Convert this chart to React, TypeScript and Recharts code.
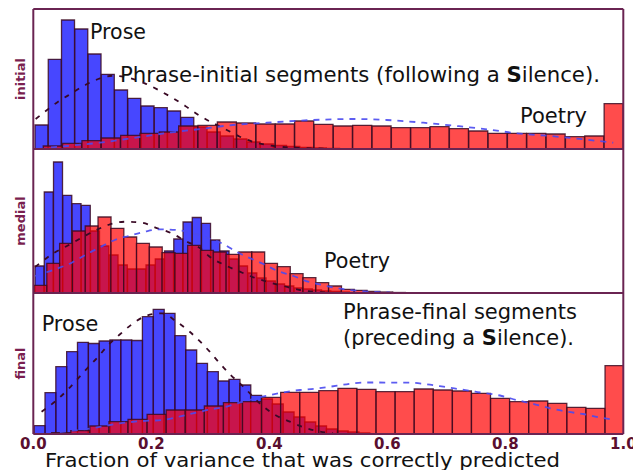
import React from "react";
import { ComposedChart, Bar, Line, XAxis, YAxis } from "recharts";

const W = 633;
const H = 470;
const PLOT_LEFT = 33.3;
const PLOT_RIGHT = 623.3;

const BLUE = "#0000ff";
const RED = "#ff0000";
const EDGE = "#3c0a22";
const FRAME = "#6a2452";
const TICK_COLOR = "#5a0f30";
const YLABEL_COLOR = "#7a1f50";
const FONT = "'DejaVu Sans', sans-serif";

// histogram heights (arbitrary density units)
const initialProse = [24, 89.7, 129, 120, 95, 74.7, 59, 50.7, 43, 41.3, 38, 31.7, 22, 17, 13, 10, 7, 5, 3.5, 2.5, 1.5, 1, 0.7];
const initialPoetry = [3, 5.6, 8.3, 11, 13.6, 15.6, 17, 23, 23.6, 27, 26, 25, 25, 28, 24.7, 23, 23.7, 23, 21.3, 21.3, 22.3, 20.3, 18, 15.7, 15.7, 15.7, 15, 12.3, 13, 45.3];
const medialProse = [27, 101, 131, 97.7, 89.3, 87.7, 62, 47, 38, 28, 24, 24, 28, 34, 42, 54, 71, 75.5, 69.7, 53, 42, 34, 27, 20, 15, 12, 9, 7, 5, 4, 3, 2, 1.5, 1];
const medialPoetry = [7.7, 29.7, 49.7, 62, 67, 76, 64.7, 56, 49.7, 46, 40.3, 39.7, 47.7, 42.7, 41, 38.7, 41, 41, 29.7, 26.3, 19.3, 15.3, 10.3, 7, 3.7, 2.7, 1.5, 1, 0.5];
const finalProse = [8.3, 41.3, 67.3, 82.3, 91.7, 90.5, 93, 94, 94, 93.5, 117.3, 124.7, 120.7, 98.3, 84, 70.7, 62.3, 53, 54.7, 49, 38.7, 35, 30, 22, 17, 12, 8, 5, 3, 2, 1];
const finalPoetry = [1.3, 3.3, 8, 12.3, 14.7, 19.7, 24, 24, 28, 31.3, 32.3, 36.7, 41.7, 41.7, 43.3, 45.7, 44.7, 42.3, 42.3, 45, 44, 43, 40.7, 35.7, 32.3, 33, 30.7, 26.7, 25.7, 68.3];

// bin layout of each histogram (left edge of first bin, bin width)
const initialProseBins = { start: 0.0029, width: 0.02246 };
const initialPoetryBins = { start: 0.0169, width: 0.03278 };
const medialProseBins = { start: 0.0029, width: 0.01568 };
const medialPoetryBins = { start: 0.0012, width: 0.0217 };
const finalProseBins = { start: 0.0015, width: 0.01834 };
const finalPoetryBins = { start: 0.0312, width: 0.03234 };

// fitted density curves (dashed)
const initialProseFit = [
  { x: 0.004, y: 30 }, { x: 0.014, y: 34.7 }, { x: 0.042, y: 47.3 }, { x: 0.065, y: 55.7 }, { x: 0.088, y: 64 },
  { x: 0.11, y: 70 }, { x: 0.136, y: 73.3 }, { x: 0.161, y: 71.3 }, { x: 0.189, y: 65.7 }, { x: 0.212, y: 59 },
  { x: 0.237, y: 50.7 }, { x: 0.257, y: 43.3 }, { x: 0.28, y: 34 }, { x: 0.302, y: 26.7 }, { x: 0.325, y: 20 },
  { x: 0.35, y: 12.3 }, { x: 0.372, y: 7.3 }, { x: 0.396, y: 4 }, { x: 0.435, y: 1.5 }, { x: 0.503, y: 0.3 },
];
const initialPoetryFit = [
  { x: 0.03, y: 1.5 }, { x: 0.057, y: 3 }, { x: 0.113, y: 6.3 }, { x: 0.169, y: 11 }, { x: 0.227, y: 16 },
  { x: 0.283, y: 20 }, { x: 0.338, y: 24 }, { x: 0.396, y: 26.3 }, { x: 0.474, y: 29 }, { x: 0.542, y: 30 },
  { x: 0.599, y: 29 }, { x: 0.661, y: 26.3 }, { x: 0.718, y: 23 }, { x: 0.769, y: 19.7 }, { x: 0.82, y: 15.7 },
  { x: 0.876, y: 13 }, { x: 0.932, y: 9.7 }, { x: 0.983, y: 6.3 },
];
const medialProseFit = [
  { x: 0.003, y: 26 }, { x: 0.011, y: 29.7 }, { x: 0.034, y: 39.7 }, { x: 0.057, y: 47 }, { x: 0.082, y: 55.3 },
  { x: 0.107, y: 63 }, { x: 0.13, y: 68.7 }, { x: 0.158, y: 71.3 }, { x: 0.184, y: 70.3 }, { x: 0.206, y: 65.7 },
  { x: 0.237, y: 59 }, { x: 0.257, y: 52.3 }, { x: 0.283, y: 44.7 }, { x: 0.299, y: 36.3 }, { x: 0.328, y: 27 },
  { x: 0.35, y: 21.3 }, { x: 0.373, y: 15.7 }, { x: 0.396, y: 11.3 }, { x: 0.424, y: 7 }, { x: 0.452, y: 3 },
  { x: 0.503, y: 0.5 },
];
const medialPoetryFit = [
  { x: 0.003, y: 17 }, { x: 0.02, y: 20.3 }, { x: 0.042, y: 24.7 }, { x: 0.065, y: 30.3 }, { x: 0.088, y: 38 },
  { x: 0.113, y: 45.7 }, { x: 0.138, y: 53 }, { x: 0.161, y: 57 }, { x: 0.189, y: 61.3 }, { x: 0.215, y: 63.7 },
  { x: 0.243, y: 63 }, { x: 0.294, y: 55.3 }, { x: 0.322, y: 49 }, { x: 0.342, y: 42 }, { x: 0.364, y: 35.7 },
  { x: 0.39, y: 29 }, { x: 0.413, y: 22.3 }, { x: 0.441, y: 17 }, { x: 0.466, y: 11.3 }, { x: 0.492, y: 7.7 },
  { x: 0.52, y: 4.3 }, { x: 0.553, y: 2 }, { x: 0.604, y: 0.5 },
];
const finalProseFit = [
  { x: 0.014, y: 22.3 }, { x: 0.04, y: 34 }, { x: 0.059, y: 44.7 }, { x: 0.076, y: 55.7 }, { x: 0.093, y: 66.7 },
  { x: 0.11, y: 77.3 }, { x: 0.127, y: 89 }, { x: 0.147, y: 99.7 }, { x: 0.167, y: 109.7 }, { x: 0.192, y: 118.3 },
  { x: 0.218, y: 120.7 }, { x: 0.243, y: 112.3 }, { x: 0.263, y: 103.3 }, { x: 0.283, y: 92.3 }, { x: 0.299, y: 82.3 },
  { x: 0.316, y: 70.7 }, { x: 0.333, y: 60 }, { x: 0.356, y: 47.3 }, { x: 0.387, y: 29 }, { x: 0.41, y: 19 },
  { x: 0.435, y: 12.3 }, { x: 0.463, y: 5.7 }, { x: 0.508, y: 0.7 },
];
const finalPoetryFit = [
  { x: 0.045, y: 2 }, { x: 0.105, y: 6.3 }, { x: 0.147, y: 10.7 }, { x: 0.186, y: 13 }, { x: 0.218, y: 14 },
  { x: 0.266, y: 20 }, { x: 0.302, y: 24.7 }, { x: 0.322, y: 26.7 }, { x: 0.359, y: 33 }, { x: 0.401, y: 39 },
  { x: 0.452, y: 44 }, { x: 0.477, y: 45.3 }, { x: 0.503, y: 47.3 }, { x: 0.531, y: 49.7 }, { x: 0.559, y: 51.5 },
  { x: 0.638, y: 51.3 }, { x: 0.667, y: 49.7 }, { x: 0.695, y: 47.3 }, { x: 0.723, y: 44.7 }, { x: 0.749, y: 42.3 },
  { x: 0.794, y: 38 }, { x: 0.819, y: 34 }, { x: 0.85, y: 29.7 }, { x: 0.876, y: 25.7 }, { x: 0.904, y: 22.3 },
  { x: 0.932, y: 20 }, { x: 0.958, y: 16.7 }, { x: 0.98, y: 14.7 },
];

const xTicks = [0, 0.2, 0.4, 0.6, 0.8, 1.0];
const innerTicks = [0.2, 0.4, 0.6, 0.8];

type Bins = { start: number; width: number };
type Panel = {
  name: string; top: number; bottom: number; ymax: number;
  prose: number[]; proseBins: Bins; poetry: number[]; poetryBins: Bins;
  proseFit: { x: number; y: number }[]; poetryFit: { x: number; y: number }[];
};

const panels: Panel[] = [
  { name: "initial", top: 9, bottom: 149, ymax: 140, prose: initialProse, proseBins: initialProseBins, poetry: initialPoetry, poetryBins: initialPoetryBins, proseFit: initialProseFit, poetryFit: initialPoetryFit },
  { name: "medial", top: 149, bottom: 293, ymax: 144, prose: medialProse, proseBins: medialProseBins, poetry: medialPoetry, poetryBins: medialPoetryBins, proseFit: medialProseFit, poetryFit: medialPoetryFit },
  { name: "final", top: 293, bottom: 434, ymax: 141, prose: finalProse, proseBins: finalProseBins, poetry: finalPoetry, poetryBins: finalPoetryBins, proseFit: finalProseFit, poetryFit: finalPoetryFit },
];

function histRows(heights: number[], bins: Bins) {
  return heights.map((h, i) => ({ x: bins.start + (i + 0.5) * bins.width, h }));
}

function marginFor(p: Panel, extraBottom = 0) {
  return { top: p.top, bottom: H - p.bottom - extraBottom, left: PLOT_LEFT, right: W - PLOT_RIGHT };
}

const layerStyle: React.CSSProperties = { position: "absolute", left: 0, top: 0 };

function HistLayer({ panel, rows, color, opacity }: { panel: Panel; rows: { x: number; h: number }[]; color: string; opacity: number }) {
  return (
    <div style={layerStyle}>
      <ComposedChart width={W} height={H} data={rows} margin={marginFor(panel)} barCategoryGap={0} barGap={0}>
        <XAxis type="number" dataKey="x" domain={[0, 1]} allowDataOverflow hide />
        <YAxis type="number" domain={[0, panel.ymax]} allowDataOverflow hide />
        <Bar dataKey="h" fill={color} fillOpacity={opacity} stroke={EDGE} strokeOpacity={0.85} strokeWidth={1.3} isAnimationActive={false} />
      </ComposedChart>
    </div>
  );
}

function FrameLayer({ panel, last }: { panel: Panel; last: boolean }) {
  const labH = 20;
  return (
    <div style={layerStyle}>
      <ComposedChart width={W} height={H} margin={marginFor(panel, last ? labH : 0)}>
        <XAxis xAxisId={0} type="number" dataKey="x" domain={[0, 1]} allowDataOverflow orientation="bottom" mirror
          ticks={innerTicks} tick={false} tickSize={4} tickLine={{ stroke: FRAME, strokeWidth: 1.5 }} axisLine={{ stroke: FRAME, strokeWidth: 2 }} />
        <XAxis xAxisId="top" type="number" dataKey="x" domain={[0, 1]} allowDataOverflow orientation="top" mirror
          ticks={innerTicks} tick={false} tickSize={4} tickLine={{ stroke: FRAME, strokeWidth: 1.5 }} axisLine={{ stroke: FRAME, strokeWidth: 2 }} />
        {last && (
          <XAxis xAxisId="lab" type="number" dataKey="x" domain={[0, 1]} allowDataOverflow orientation="bottom" height={labH}
            ticks={xTicks} interval={0} tickFormatter={(v: number) => v.toFixed(1)} axisLine={false} tickLine={false} tickSize={0} tickMargin={4}
            tick={{ fill: TICK_COLOR, fontSize: 15, fontWeight: "bold", fontFamily: FONT }} />
        )}
        <YAxis yAxisId={0} type="number" domain={[0, panel.ymax]} allowDataOverflow mirror tick={false} tickLine={false} axisLine={{ stroke: FRAME, strokeWidth: 2 }} />
        <YAxis yAxisId="r" type="number" orientation="right" domain={[0, panel.ymax]} allowDataOverflow mirror tick={false} tickLine={false} axisLine={{ stroke: FRAME, strokeWidth: 2 }} />
        <Line data={panel.proseFit} dataKey="y" type="monotone" stroke="#3a0a25" strokeWidth={1.8} strokeDasharray="5 7" dot={false} isAnimationActive={false} />
        <Line data={panel.poetryFit} dataKey="y" type="monotone" stroke="#4a4af0" strokeOpacity={0.9} strokeWidth={1.8} strokeDasharray="6 6" dot={false} isAnimationActive={false} />
      </ComposedChart>
    </div>
  );
}

const txt = { fontFamily: FONT, fill: "#111", lengthAdjust: "spacingAndGlyphs" as const };

export default function App() {
  return (
    <div style={{ position: "absolute", left: 0, top: 0, width: W, height: H, background: "#fff", overflow: "hidden" }}>
      {panels.map((p, i) => (
        <React.Fragment key={p.name}>
          <HistLayer panel={p} rows={histRows(p.prose, p.proseBins)} color={BLUE} opacity={0.72} />
          <HistLayer panel={p} rows={histRows(p.poetry, p.poetryBins)} color={RED} opacity={0.7} />
          <FrameLayer panel={p} last={i === panels.length - 1} />
        </React.Fragment>
      ))}
      <svg width={W} height={H} style={{ ...layerStyle, pointerEvents: "none" }}>
        {panels.map((p) => (
          <text key={p.name} transform={`translate(25, ${(p.top + p.bottom) / 2}) rotate(-90)`} textAnchor="middle"
            fontFamily={FONT} fontSize={13} fontWeight="bold" fill={YLABEL_COLOR}>{p.name}</text>
        ))}
        <text x={90} y={38.5} fontSize={22} textLength={56} {...txt}>Prose</text>
        <text x={120} y={81.7} fontSize={22} textLength={480} {...txt}>
          Phrase-initial segments (following a <tspan fontWeight="bold">S</tspan>ilence).
        </text>
        <text x={520} y={122.7} fontSize={21} textLength={67} {...txt}>Poetry</text>
        <text x={324} y={267.7} fontSize={21} textLength={66} {...txt}>Poetry</text>
        <text x={41.7} y={331} fontSize={22} textLength={56.6} {...txt}>Prose</text>
        <text x={343} y={319.3} fontSize={22} textLength={234} {...txt}>Phrase-final segments</text>
        <text x={343} y={345} fontSize={22} textLength={231} {...txt}>
          (preceding a <tspan fontWeight="bold">S</tspan>ilence).
        </text>
        <text x={45} y={467} fontSize={20} textLength={515} {...txt}>Fraction of variance that was correctly predicted</text>
      </svg>
    </div>
  );
}
